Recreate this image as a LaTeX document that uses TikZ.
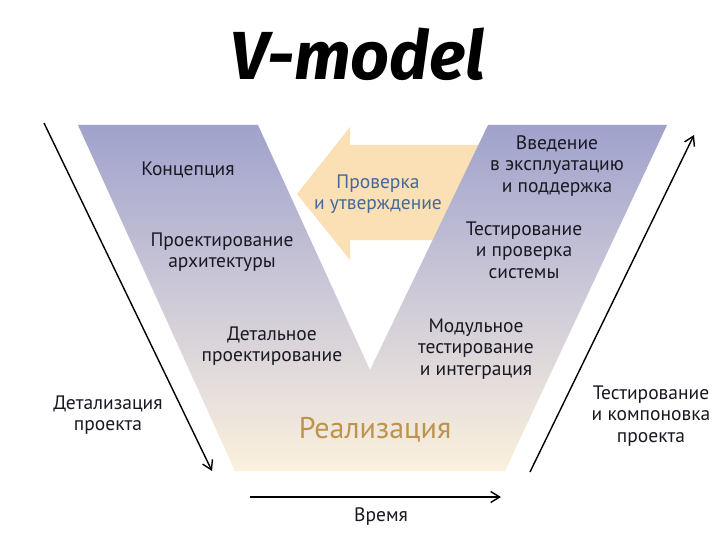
\documentclass[tikz,border=0pt]{standalone}
\usepackage{fontspec}
\setmainfont{PT Sans}
\newfontfamily\titlefont{Fira Sans}
\usetikzlibrary{arrows.meta}
\definecolor{vtop}{RGB}{160,162,204}
\definecolor{vmid}{RGB}{206,202,216}
\definecolor{vbot}{RGB}{251,241,222}
\definecolor{peach}{RGB}{250,224,180}
\definecolor{checkblue}{RGB}{70,105,155}
\definecolor{realgold}{RGB}{188,148,78}
\definecolor{txt}{RGB}{25,25,35}
\tikzset{
  lbl/.style={align=center, text=txt, font=\fontsize{19.5}{21.5}\selectfont, inner sep=0pt},
  axis/.style={line width=1.4pt, -{Straight Barb[length=9pt,width=11pt,line width=1.4pt]}}
}
\begin{document}
\begin{tikzpicture}[x=1pt,y=-1pt]
\useasboundingbox (0,0) rectangle (720,540);
\fill[white] (0,0) rectangle (720,540);
% title
\node[inner sep=0pt, font=\titlefont\bfseries\itshape\fontsize{68}{70}\selectfont] (title) at (358,54) {V-model};
% orange arrow
\fill[peach] (297,194) -- (350,127) -- (350,145) -- (480,145) -- (480,240) -- (350,240) -- (350,260) -- cycle;
% V shape
\shade[top color=vtop, bottom color=vbot, middle color=vmid]
  (78,125) -- (258,125) -- (370,370) -- (488,125) -- (667,125) -- (505,471) -- (235,471) -- cycle;
% texts
\node[lbl] (concept) at (188,170) {Концепция};
\node[lbl] (arch) at (222,252) {Проектирование\\архитектуры};
\node[lbl] (detail) at (272,346) {Детальное\\проектирование};
\node[lbl, text=checkblue] (check) at (378,194) {Проверка\\и утверждение};
\node[lbl] (intro) at (557,166) {Введение\\в эксплуатацию\\и поддержка};
\node[lbl] (systest) at (524,250) {Тестирование\\и проверка\\системы};
\node[lbl] (unit) at (476,349) {Модульное\\тестирование\\и интеграция};
\node[lbl, text=realgold, font=\fontsize{30}{32}\selectfont] (impl) at (375,430) {Реализация};
\node[lbl] (detlbl) at (108,415) {Детализация\\проекта};
\node[lbl] (testlbl) at (651,416) {Тестирование\\и компоновка\\проекта};
\node[lbl] (time) at (381,517) {Время};
% axes
\coordinate (l1) at (44,123);
\coordinate (l2) at (212,471);
\coordinate (r1) at (530,472);
\coordinate (r2) at (694,135);
\coordinate (t1) at (250,497);
\coordinate (t2) at (501,497);
\draw[axis] (l1) -- (l2);
\draw[axis] (r1) -- (r2);
\draw[axis] (t1) -- (t2);
\end{tikzpicture}
\end{document}
